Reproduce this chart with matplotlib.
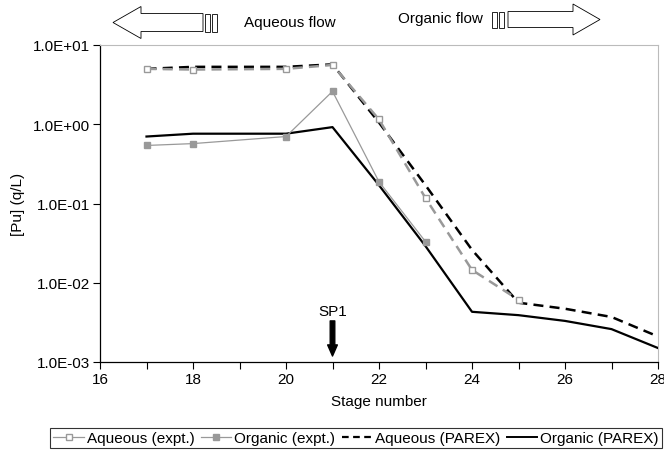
import numpy as np
import matplotlib.pyplot as plt
from matplotlib.patches import Polygon, Rectangle
from matplotlib.lines import Line2D
from matplotlib.ticker import FixedLocator, FuncFormatter

plt.rcParams['font.family'] = ['Liberation Sans', 'DejaVu Sans']

# stages and Pu concentrations (g/L)
stage_aq_expt = [17, 18, 20, 21, 22, 23, 24, 25]
pu_aq_expt = [5.0, 4.9, 5.0, 5.6, 1.15, 0.117, 0.0145, 0.0061]
stage_org_expt = [17, 18, 20, 21, 22, 23]
pu_org_expt = [0.54, 0.57, 0.70, 2.6, 0.188, 0.033]
stage_parex = [17, 18, 20, 21, 22, 23, 24, 25, 26, 27, 28]
pu_aq_parex = [5.0, 5.3, 5.3, 5.7, 1.05, 0.17, 0.026, 0.0056, 0.0047, 0.0037, 0.0021]
pu_org_parex = [0.70, 0.76, 0.76, 0.92, 0.17, 0.029, 0.0043, 0.0039, 0.0033, 0.0026, 0.0015]

FS = 11

fig = plt.figure(figsize=(6.64, 4.52), dpi=100)
ax = fig.add_axes([100/664, 1-363/452, 558/664, 317/452])

grey = '#999999'
ax.plot(stage_parex, pu_aq_parex, color='black', lw=1.8, ls=(0, (4, 2.5)), zorder=3)
ax.plot(stage_aq_expt, pu_aq_expt, color=grey, lw=1.8, ls=(0, (4, 2.5)), marker='s',
        ms=5, mfc='white', mec=grey, mew=1, zorder=4)
ax.plot(stage_org_expt, pu_org_expt, color=grey, lw=0.9, marker='s', ms=5,
        mfc=grey, mec=grey, zorder=4)
ax.plot(stage_parex, pu_org_parex, color='black', lw=1.6, zorder=3)

ax.set_yscale('log')
ax.set_ylim(1e-3, 1e1)
ax.set_xlim(16, 28)
ax.set_xticks([16, 18, 20, 22, 24, 26, 28])
ax.set_xticks(range(16, 29), minor=True)
ax.yaxis.set_major_locator(FixedLocator([1e-3, 1e-2, 1e-1, 1e0, 1e1]))
ax.yaxis.set_minor_locator(FixedLocator([]))
ax.yaxis.set_major_formatter(FuncFormatter(lambda v, p: '%.1E' % v))
ax.tick_params(axis='both', direction='out', length=5, width=0.8, labelsize=FS, pad=2)
ax.tick_params(axis='x', which='minor', direction='out', length=5, width=0.8)
ax.spines['top'].set_color('#bbbbbb')
ax.spines['right'].set_color('#bbbbbb')
for s in ['left', 'bottom']:
    ax.spines[s].set_linewidth(0.9)

ax.set_xlabel('Stage number', fontsize=FS, labelpad=6)
ax.set_ylabel('[Pu] (q/L)', fontsize=FS, labelpad=6)

# SP1 marker
ax.annotate('', xy=(21, 1.19e-3), xytext=(21, 3.3e-3),
            arrowprops=dict(arrowstyle='simple,head_width=0.7,head_length=0.8,tail_width=0.33',
                            color='black', shrinkA=0, shrinkB=0))
ax.text(21, 4.4e-3, 'SP1', ha='center', va='center', fontsize=FS)

# legend
handles = [
    Line2D([], [], color=grey, lw=0.9, marker='s', ms=4, mfc='white', mec=grey),
    Line2D([], [], color=grey, lw=0.9, marker='s', ms=4, mfc=grey, mec=grey),
    Line2D([], [], color='black', lw=1.6, ls=(0, (3, 2))),
    Line2D([], [], color='black', lw=1.4),
]
labels = ['Aqueous (expt.)', 'Organic (expt.)', 'Aqueous (PAREX)', 'Organic (PAREX)']
fig.legend(handles, labels, loc='center', bbox_to_anchor=(356/664, 1-439/452), ncol=4,
           fontsize=FS, frameon=True, fancybox=False, edgecolor='black', handlelength=2.0,
           handletextpad=0.2, columnspacing=0.4, borderpad=0.2, borderaxespad=0)
fig.legends[0].get_frame().set_linewidth(0.8)


def px(x, y):
    return (x/664, 1-y/452)


def block_arrow(x_tip, x_base, x_tail, yc, body_h, head_h):
    pts = [(x_tip, yc), (x_base, yc-head_h/2), (x_base, yc-body_h/2), (x_tail, yc-body_h/2),
           (x_tail, yc+body_h/2), (x_base, yc+body_h/2), (x_base, yc+head_h/2)]
    fig.patches.append(Polygon([px(*p) for p in pts], closed=True, fc='white', ec='black',
                               lw=0.6, transform=fig.transFigure, figure=fig))


def bars(xs, yc, h, w):
    for x0 in xs:
        xx, yy = px(x0, yc + h/2)
        fig.patches.append(Rectangle((xx, yy), w/664, h/452, fc='white', ec='black', lw=0.6,
                                     transform=fig.transFigure, figure=fig))


block_arrow(113, 141, 203, 23.5, 18, 32)
bars([205, 212], 23.5, 18, 5)
fig.text(*px(244, 23), 'Aqueous flow', fontsize=FS, va='center', ha='left')

block_arrow(600, 573, 508, 20.5, 16, 31)
bars([492, 499], 20.5, 16, 5)
fig.text(*px(398, 19), 'Organic flow', fontsize=FS, va='center', ha='left')

fig.savefig('out.png', dpi=100)
